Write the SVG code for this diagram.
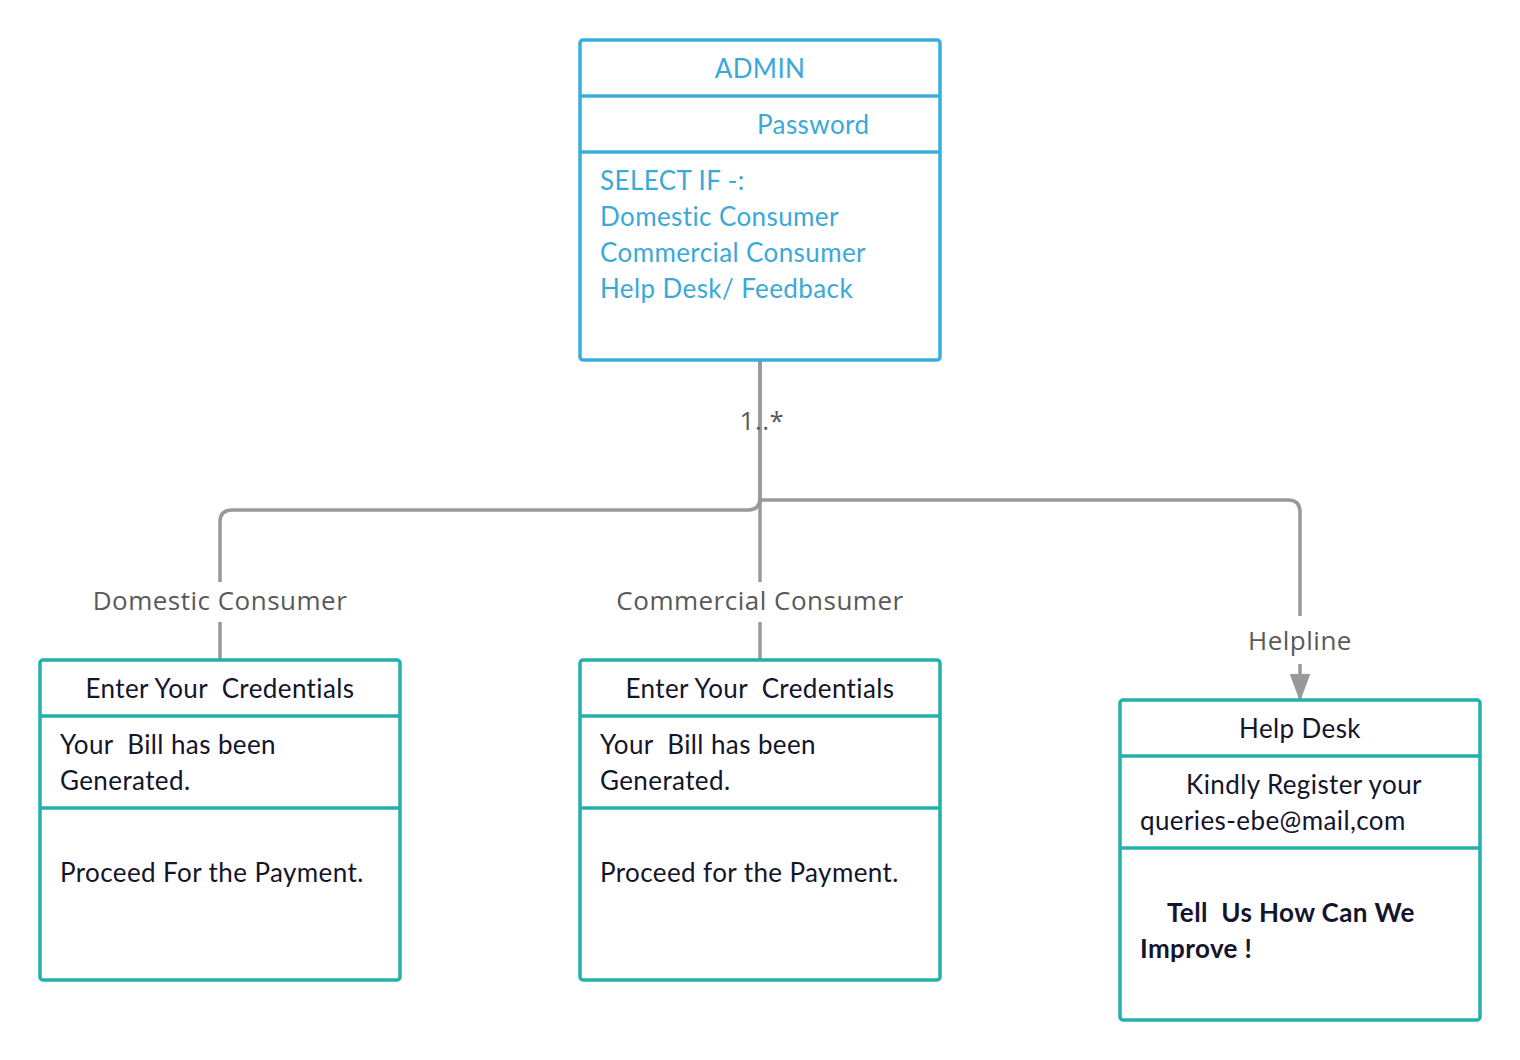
<svg xmlns="http://www.w3.org/2000/svg" width="1520" height="1060" viewBox="0 0 1520 1060">
<style>
text{white-space:pre}
.box{fill:#fff;stroke-width:3.5}
.admin{stroke:#3aaedb}
.teal{stroke:#24b0ac}
.div{stroke-width:3.5}
.bt{font-family:Lato,"Open Sans",sans-serif;font-size:26px;letter-spacing:0.4px;fill:#3aa9d9}
.tt{font-family:Lato,"Open Sans",sans-serif;font-size:26px;letter-spacing:0.4px;fill:#14142b}
.tb{font-weight:bold}
.conn{fill:none;stroke:#999;stroke-width:3.5}
.lbl{font-family:"Open Sans",sans-serif;font-size:26px;letter-spacing:0.5px;fill:#595959;text-anchor:middle}
.mid{text-anchor:middle}
</style>
<defs>
<marker id="arr" markerWidth="8" markerHeight="6" refX="7" refY="3" orient="auto" markerUnits="strokeWidth">
<path d="M0,0 L8,3 L0,6 Z" fill="#999"/>
</marker>
</defs>
<g id="connectors">
<path class="conn" d="M760,360 V498 Q760,510 748,510 H232 Q220,510 220,522 V660"/>
<path class="conn" d="M760,360 V660"/>
<path class="conn" d="M760,500 H1288 Q1300,500 1300,512 V698" marker-end="url(#arr)"/>
<rect x="80" y="582" width="280" height="40" fill="#fff"/>
<rect x="605" y="582" width="310" height="40" fill="#fff"/>
<rect x="1240" y="616" width="120" height="48" fill="#fff"/>
<text class="lbl" x="220" y="610">Domestic Consumer</text>
<text class="lbl" x="760" y="610">Commercial Consumer</text>
<text class="lbl" x="1300" y="650">Helpline</text>
<text class="lbl" x="762" y="430">1..*</text>
</g>
<g id="admin">
<rect class="box admin" x="580" y="40" width="360" height="320" rx="3"/>
<line class="div admin" x1="580" y1="96" x2="940" y2="96"/>
<line class="div admin" x1="580" y1="152" x2="940" y2="152"/>
<text class="bt mid" x="760" y="78">ADMIN</text>
<text class="bt" x="757" y="134">Password</text>
<text class="bt" x="600" y="190">SELECT IF -:</text>
<text class="bt" x="600" y="226">Domestic Consumer</text>
<text class="bt" x="600" y="262">Commercial Consumer</text>
<text class="bt" x="600" y="298">Help Desk/ Feedback</text>
</g>
<g id="domestic">
<rect class="box teal" x="40" y="660" width="360" height="320" rx="3"/>
<line class="div teal" x1="40" y1="716" x2="400" y2="716"/>
<line class="div teal" x1="40" y1="808" x2="400" y2="808"/>
<text class="tt mid" x="220" y="698">Enter Your  Credentials</text>
<text class="tt" x="60" y="754">Your  Bill has been</text>
<text class="tt" x="60" y="790">Generated.</text>
<text class="tt" x="60" y="882">Proceed For the Payment.</text>
</g>
<g id="commercial">
<rect class="box teal" x="580" y="660" width="360" height="320" rx="3"/>
<line class="div teal" x1="580" y1="716" x2="940" y2="716"/>
<line class="div teal" x1="580" y1="808" x2="940" y2="808"/>
<text class="tt mid" x="760" y="698">Enter Your  Credentials</text>
<text class="tt" x="600" y="754">Your  Bill has been</text>
<text class="tt" x="600" y="790">Generated.</text>
<text class="tt" x="600" y="882">Proceed for the Payment.</text>
</g>
<g id="helpdesk">
<rect class="box teal" x="1120" y="700" width="360" height="320" rx="3"/>
<line class="div teal" x1="1120" y1="756" x2="1480" y2="756"/>
<line class="div teal" x1="1120" y1="848" x2="1480" y2="848"/>
<text class="tt mid" x="1300" y="738">Help Desk</text>
<text class="tt" x="1186" y="794">Kindly Register your</text>
<text class="tt" x="1140" y="830">queries-ebe@mail,com</text>
<text class="tt tb" x="1167" y="922">Tell  Us How Can We</text>
<text class="tt tb" x="1140" y="958">Improve !</text>
</g>
</svg>
